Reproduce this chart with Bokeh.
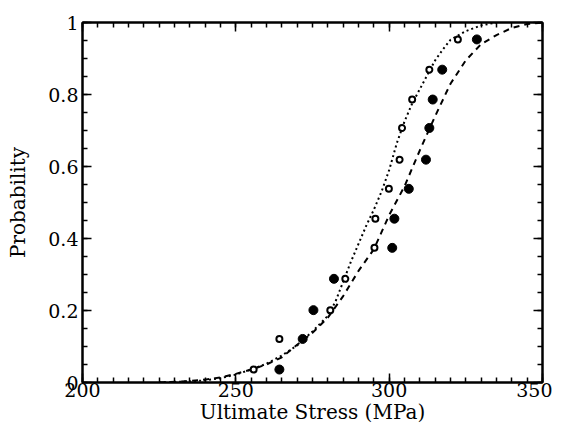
from bokeh.plotting import figure
from bokeh.models import LinearAxis, Range1d, FixedTicker
from bokeh.embed import file_html
from bokeh.resources import INLINE

# ---- data ----
prob_levels = [0.036, 0.121, 0.201, 0.288, 0.374, 0.455, 0.538, 0.619, 0.707, 0.786, 0.869, 0.953]
open_stress = [255.8, 264.2, 280.8, 285.7, 295.2, 295.5, 299.9, 303.4, 304.2, 307.5, 313.1, 322.4]
filled_stress = [264.2, 271.8, 275.3, 282.0, 301.0, 301.7, 306.4, 312.0, 313.1, 314.2, 317.3, 328.6]

dotted_x = [225, 235, 240, 245, 250, 255, 260, 265, 270, 275, 280, 282.5, 285, 287.5, 290, 292.5, 295,
            297.5, 300, 302.5, 305, 307.5, 310, 312.5, 315, 317.5, 320, 325, 330, 335]
dotted_y = [0.0, 0.003, 0.006, 0.012, 0.022, 0.036, 0.052, 0.075, 0.103, 0.142, 0.185, 0.225, 0.28, 0.335,
            0.385, 0.435, 0.48, 0.53, 0.59, 0.665, 0.725, 0.775, 0.815, 0.855, 0.895, 0.925, 0.952,
            0.976, 0.992, 1.0]

dashed_x = [225, 235, 240, 245, 250, 255, 260, 265, 270, 275, 280, 285, 290, 295, 300, 305, 310, 315,
            320, 325, 330, 335, 340, 345, 350]
dashed_y = [0.0, 0.004, 0.008, 0.014, 0.024, 0.036, 0.05, 0.07, 0.105, 0.138, 0.18, 0.24, 0.31, 0.37,
            0.465, 0.545, 0.645, 0.74, 0.83, 0.895, 0.94, 0.965, 0.985, 0.996, 1.0]

x_ticks = [200, 250, 300, 350]
x_minor = [200 + 5 * i for i in range(31)]
y_ticks = [0, 0.2, 0.4, 0.6, 0.8, 1.0]
y_minor = [round(0.05 * i, 2) for i in range(21)]
y_tick_labels = {0: "0", 0.2: "0.2", 0.4: "0.4", 0.6: "0.6", 0.8: "0.8", 1.0: "1", 1: "1"}
x_label = "Ultimate Stress (MPa)"
y_label = "Probability"

FONT = "DejaVu Serif"

p = figure(frame_width=460, frame_height=360,
           x_range=Range1d(200, 350), y_range=Range1d(0, 1),
           output_backend="svg", toolbar_location=None,
           min_border_left=82, min_border_top=22, min_border_right=10, min_border_bottom=30,
           background_fill_color="white", border_fill_color="white")
p.xgrid.visible = False
p.ygrid.visible = False
p.outline_line_color = "black"
p.outline_line_width = 2

xt = FixedTicker(ticks=x_ticks, minor_ticks=x_minor)
yt = FixedTicker(ticks=y_ticks, minor_ticks=y_minor)


def style(ax, labels=True):
    ax.axis_line_width = 2
    ax.axis_line_color = "black"
    ax.major_tick_in = 9
    ax.major_tick_out = 0
    ax.minor_tick_in = 5
    ax.minor_tick_out = 0
    ax.major_tick_line_width = 1.5
    ax.minor_tick_line_width = 1.5
    ax.major_tick_line_color = "black"
    ax.minor_tick_line_color = "black"
    if labels:
        ax.major_label_text_font = FONT
        ax.major_label_text_font_size = "19px"
        ax.major_label_text_color = "black"
    else:
        ax.major_label_text_font_size = "1px"
        ax.major_label_text_color = None
        ax.major_label_standoff = 0


xa = p.xaxis[0]
xa.ticker = xt
style(xa)
xa.major_label_standoff = 0
xa.axis_label = x_label
xa.axis_label_text_font = FONT
xa.axis_label_text_font_size = "20px"
xa.axis_label_text_font_style = "normal"
xa.axis_label_text_color = "black"
xa.axis_label_standoff = 0

ya = p.yaxis[0]
ya.ticker = yt
style(ya)
ya.major_label_standoff = 4
ya.major_label_overrides = y_tick_labels
ya.axis_label = y_label
ya.axis_label_text_font = FONT
ya.axis_label_text_font_size = "20px"
ya.axis_label_text_font_style = "normal"
ya.axis_label_text_color = "black"
ya.axis_label_standoff = 15

top = LinearAxis(ticker=xt)
style(top, labels=False)
p.add_layout(top, "above")
right = LinearAxis(ticker=yt)
style(right, labels=False)
p.add_layout(right, "right")

# fitted curves
p.line(dotted_x, dotted_y, line_color="black", line_width=2, line_dash="2 3")
p.line(dashed_x, dashed_y, line_color="black", line_width=2, line_dash="6 5")

# data points
p.scatter(filled_stress, prob_levels, marker="circle", size=9, fill_color="black", line_color="black")
p.scatter(open_stress, prob_levels, marker="circle", size=6, fill_color="white", line_color="black",
          line_width=2)

open("out.html", "w").write(file_html(p, INLINE))
